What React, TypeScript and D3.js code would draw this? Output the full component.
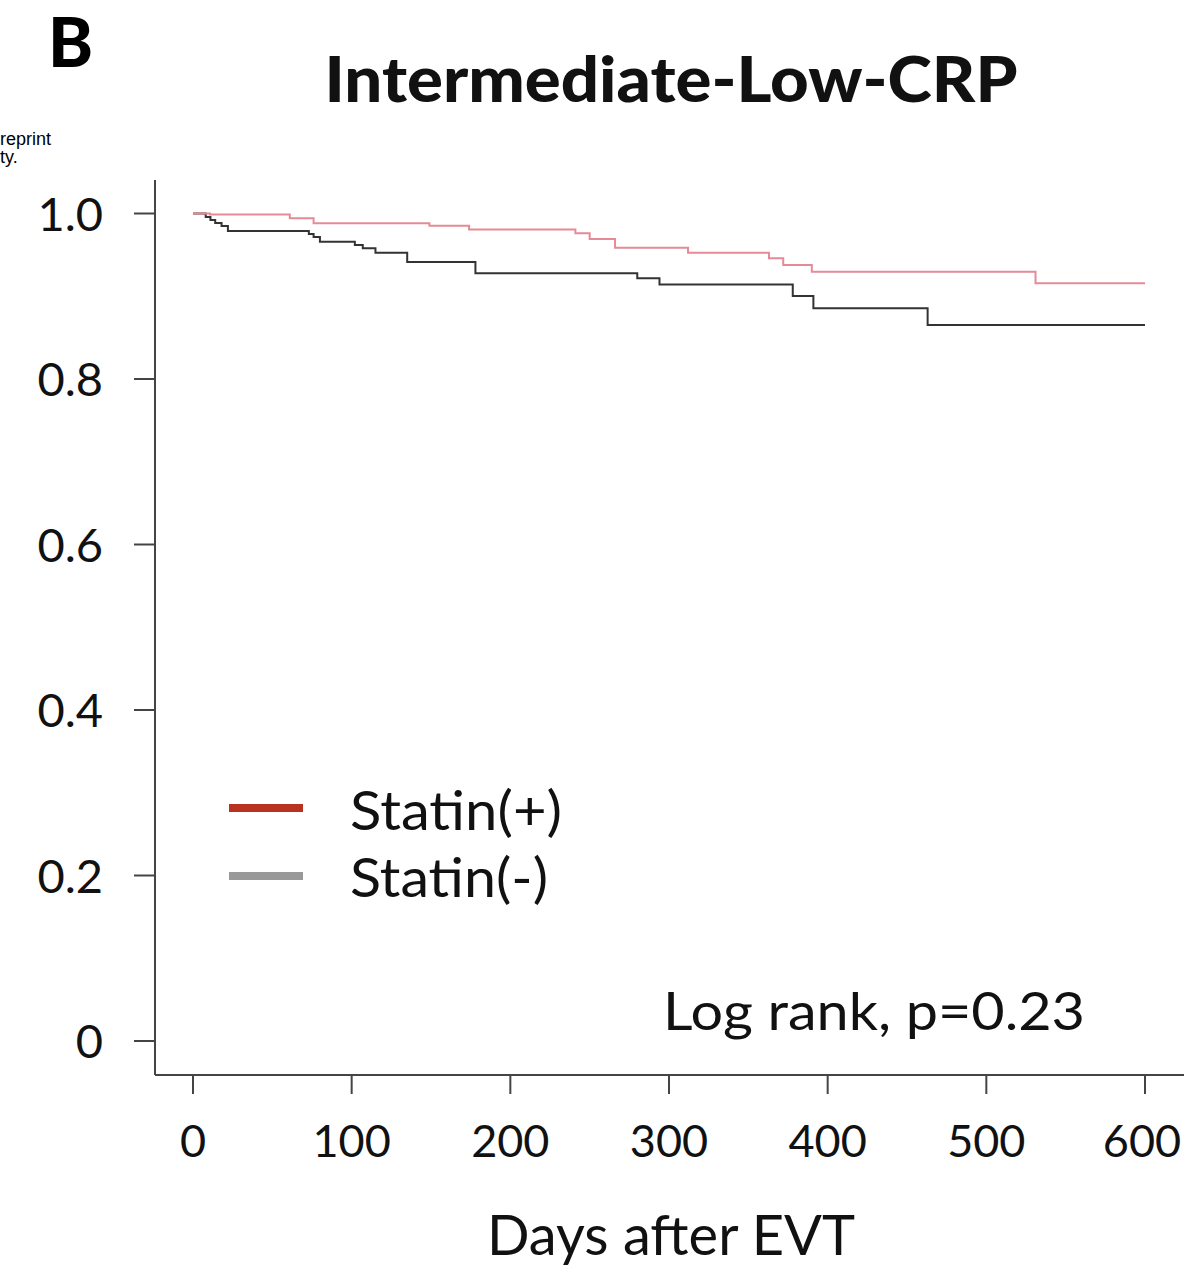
import React from "react";
import * as d3 from "d3";

const statinPosDays = [0, 10.7, 61, 76, 149, 174, 241, 250, 266, 312, 363, 372, 390, 531, 600];
const statinPosSurv = [1.0, 0.9988, 0.9942, 0.9882, 0.9853, 0.9807, 0.9761, 0.9692, 0.9587, 0.9527, 0.9459, 0.9378, 0.9297, 0.9157, 0.9157];

const statinNegDays = [0, 8, 11, 14, 18, 22, 73, 76, 80, 102, 107, 115, 135, 178, 280, 294, 378, 391, 463, 600];
const statinNegSurv = [1.0, 0.9958, 0.992, 0.9885, 0.985, 0.979, 0.9752, 0.9716, 0.966, 0.962, 0.958, 0.9527, 0.9414, 0.9278, 0.9217, 0.9142, 0.9004, 0.8855, 0.8653, 0.8653];

const xTicks = [0, 100, 200, 300, 400, 500, 600];
const yTicks = [0, 0.2, 0.4, 0.6, 0.8, 1.0];
const yTickLabels = ["0", "0.2", "0.4", "0.6", "0.8", "1.0"];
const legendLabels = ["Statin(+)", "Statin(-)"];

const FONT = "Lato, 'Open Sans', 'DejaVu Sans', sans-serif";

export default function App() {
  const x = d3.scaleLinear().domain([0, 600]).range([193, 1145]);
  const y = d3.scaleLinear().domain([0, 1]).range([1041, 213.5]);
  const line = d3
    .line<[number, number]>()
    .x((d) => x(d[0]))
    .y((d) => y(d[1]))
    .curve(d3.curveStepAfter);
  const posData = statinPosDays.map((d, i) => [d, statinPosSurv[i]] as [number, number]);
  const negData = statinNegDays.map((d, i) => [d, statinNegSurv[i]] as [number, number]);
  const axisColor = "#444";

  return (
    <svg
      width={1184}
      height={1271}
      style={{ position: "absolute", left: 0, top: 0, background: "#fff" }}
    >
      <rect x={0} y={0} width={1184} height={1271} fill="#fff" />
      <text x={48} y={67} fontFamily={FONT} fontWeight={900} fontSize={68} fill="#000">
        B
      </text>
      <text x={671} y={102} textAnchor="middle" fontFamily={FONT} fontWeight={900} fontSize={62} fill="#111"
        textLength={693} lengthAdjust="spacingAndGlyphs">
        Intermediate-Low-CRP
      </text>
      <text x={0} y={145} fontFamily="'Liberation Sans', Arial, sans-serif" fontSize={18} fill="#000">reprint</text>
      <text x={0} y={163} fontFamily="'Liberation Sans', Arial, sans-serif" fontSize={18} fill="#000">ty.</text>

      {/* axes */}
      <line x1={155} x2={155} y1={180} y2={1075} stroke={axisColor} strokeWidth={2} />
      <line x1={155} x2={1184} y1={1075} y2={1075} stroke={axisColor} strokeWidth={2} />
      {yTicks.map((t, i) => (
        <g key={"y" + i}>
          <line x1={134} x2={155} y1={y(t)} y2={y(t)} stroke={axisColor} strokeWidth={2} />
          <text x={103} y={y(t) + 17} textAnchor="end" fontFamily={FONT} fontSize={47} fill="#111">
            {yTickLabels[i]}
          </text>
        </g>
      ))}
      {xTicks.map((t, i) => (
        <g key={"x" + i}>
          <line x1={x(t)} x2={x(t)} y1={1075} y2={1094} stroke={axisColor} strokeWidth={2} />
          <text x={i === xTicks.length - 1 ? x(t) - 3 : x(t)} y={1157} textAnchor="middle" fontFamily={FONT} fontSize={45} fill="#111">
            {t}
          </text>
        </g>
      ))}
      <text x={671} y={1255} textAnchor="middle" fontFamily={FONT} fontSize={56} fill="#111">
        Days after EVT
      </text>

      {/* curves */}
      <path d={line(negData) || ""} fill="none" stroke="#333" strokeWidth={2} />
      <path d={line(posData) || ""} fill="none" stroke="#e58a96" strokeWidth={2} />

      {/* legend */}
      <line x1={229} x2={303} y1={808} y2={808} stroke="#b8321f" strokeWidth={8} />
      <line x1={229} x2={303} y1={876} y2={876} stroke="#999" strokeWidth={8} />
      <text x={350} y={830} fontFamily={FONT} fontSize={54} fill="#111" textLength={212} lengthAdjust="spacingAndGlyphs">{legendLabels[0]}</text>
      <text x={350} y={897} fontFamily={FONT} fontSize={54} fill="#111" textLength={198} lengthAdjust="spacingAndGlyphs">{legendLabels[1]}</text>

      <text x={663} y={1030} fontFamily={FONT} fontSize={52} fill="#111" textLength={422} lengthAdjust="spacingAndGlyphs">
        Log rank, p=0.23
      </text>
    </svg>
  );
}
